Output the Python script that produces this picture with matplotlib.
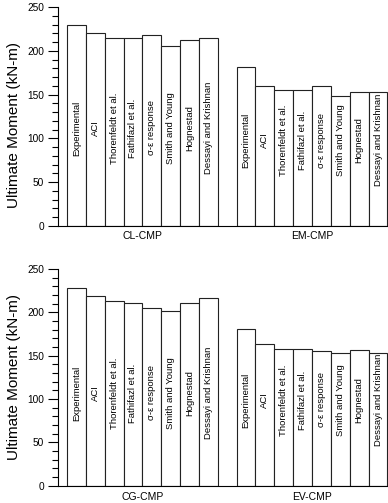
import matplotlib.pyplot as plt
import numpy as np

plt.rcParams['font.family'] = ['Liberation Sans', 'DejaVu Sans']

# 數據
methods = ['Experimental', 'ACI', 'Thorenfeldt et al.', 'Fathifazl et al.',
           'σ-ε response', 'Smith and Young', 'Hognestad', 'Dessayi and Krishnan']
groups_top = ['CL-CMP', 'EM-CMP']
groups_bottom = ['CG-CMP', 'EV-CMP']
cl_cmp = [230, 220, 215, 215, 218, 205, 212, 215]
em_cmp = [181, 160, 155, 155, 160, 148, 153, 153]
cg_cmp = [228, 219, 213, 211, 205, 202, 211, 217]
ev_cmp = [181, 164, 158, 158, 155, 153, 157, 153]

fig = plt.figure(figsize=(3.88, 5.03), dpi=100)
ax1 = fig.add_axes([0.1495, 0.5507, 0.8505, 0.4354])
ax2 = fig.add_axes([0.1495, 0.0344, 0.8505, 0.4308])


def draw_panel(ax, names, vals1, vals2, label_y, group_off, ylab_y):
    n = len(methods)
    x1 = np.arange(n)
    x2 = np.arange(n) + n + 1
    for xs, vals, name, ly in [(x1, vals1, names[0], label_y[0]),
                               (x2, vals2, names[1], label_y[1])]:
        ax.bar(xs, vals, width=1.0, color='white', edgecolor='#222222', linewidth=0.8)
        for x, m in zip(xs, methods):
            ax.text(x, ly, m, rotation=90, ha='center', va='center', fontsize=6.8)
        ax.text(xs.mean(), -group_off, name, transform=ax.get_xaxis_transform(),
                ha='center', va='center', fontsize=7.5)
    ax.set_xlim(-0.976, 2 * n + 0.53)
    ax.set_ylim(0, 250)
    ax.set_yticks(range(0, 251, 50))
    ax.set_yticks(range(0, 251, 10), minor=True)
    ax.tick_params(axis='y', which='major', length=7, width=0.8, labelsize=7.3, pad=3)
    ax.tick_params(axis='y', which='minor', length=4, width=0.8)
    ax.set_xticks([])
    ax.spines['top'].set_visible(False)
    ax.spines['right'].set_visible(False)
    ax.spines['left'].set_linewidth(0.8)
    ax.spines['bottom'].set_linewidth(0.8)
    ax.set_ylabel('Ultimate Moment (kN-m)', fontsize=11)
    ax.yaxis.set_label_coords(-0.112, ylab_y)


draw_panel(ax1, groups_top, cl_cmp, em_cmp, (112, 98), 0.046, 0.46)
draw_panel(ax2, groups_bottom, cg_cmp, ev_cmp, (107, 99), 0.05, 0.5)

plt.savefig('out.png', dpi=100)
